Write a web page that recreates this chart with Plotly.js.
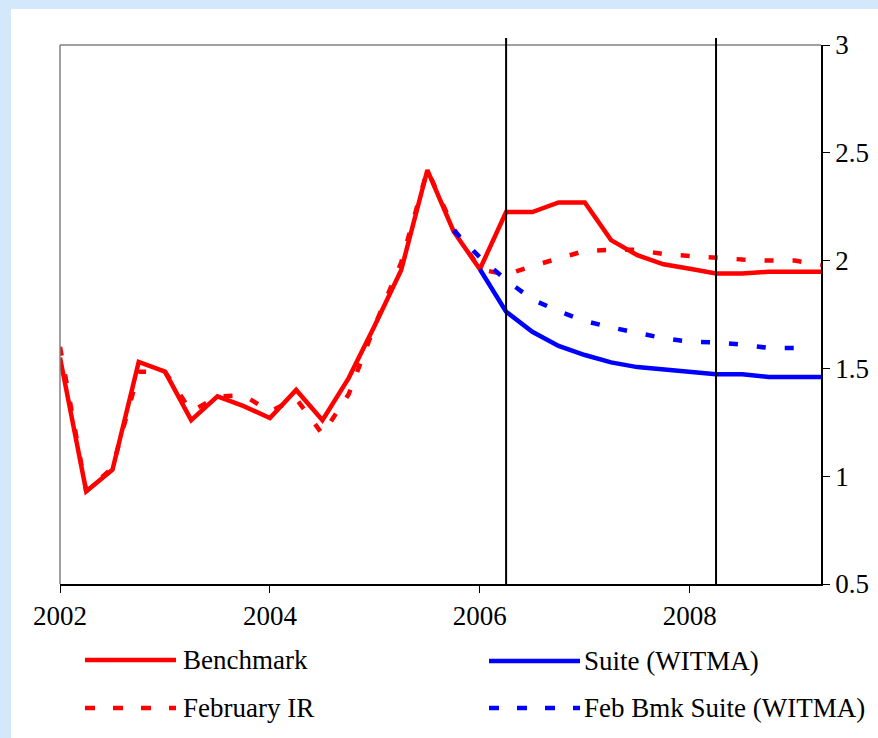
<!DOCTYPE html>
<html>
<head>
<meta charset="utf-8">
<script src="https://cdn.plot.ly/plotly-3.0.1.min.js"></script>
<style>
  html, body { margin: 0; padding: 0; width: 878px; height: 738px; overflow: hidden; background: #d3e8fa; font-family: 'Liberation Serif', serif; }
  #paper { position: absolute; left: 11px; top: 9px; width: 867px; height: 729px; background: #ffffff; }
  #chart { position: absolute; left: 0; top: 0; width: 878px; height: 738px; }
</style>
</head>
<body>
<div id="paper"></div>
<div id="chart"></div>
<script>
// ---- Data (quarterly, decimal years) ----
const quarters = [2002, 2002.25, 2002.5, 2002.75, 2003, 2003.25, 2003.5, 2003.75,
                  2004, 2004.25, 2004.5, 2004.75, 2005, 2005.25, 2005.5, 2005.75,
                  2006, 2006.25, 2006.5, 2006.75, 2007, 2007.25, 2007.5, 2007.75,
                  2008, 2008.25, 2008.5, 2008.75, 2009, 2009.25];

const benchmark = [1.55, 0.93, 1.03, 1.53, 1.485, 1.26, 1.37, 1.325,
                   1.27, 1.40, 1.26, 1.455, 1.70, 1.955, 2.42, 2.135,
                   1.96, 2.225, 2.225, 2.27, 2.27, 2.095, 2.025, 1.983,
                   1.962, 1.94, 1.94, 1.948, 1.948, 1.948];

const februaryIR = [1.60, 0.93, 1.04, 1.485, 1.485, 1.30, 1.37, 1.375,
                    1.30, 1.36, 1.195, 1.38, 1.70, 1.99, 2.42, 2.15,
                    1.96, 1.935, 1.975, 2.01, 2.045, 2.05, 2.05, 2.03,
                    2.02, 2.015, 2.005, 2.0, 2.0, 1.98];

const suiteQuarters = [2006, 2006.25, 2006.5, 2006.75, 2007, 2007.25, 2007.5,
                       2007.75, 2008, 2008.25, 2008.5, 2008.75, 2009, 2009.25];
const suite = [1.96, 1.763, 1.67, 1.604, 1.562, 1.528, 1.506,
               1.496, 1.485, 1.473, 1.473, 1.46, 1.46, 1.46];

const febSuiteQuarters = [2005.75, 2006, 2006.25, 2006.5, 2006.75, 2007, 2007.25,
                          2007.5, 2007.75, 2008, 2008.25, 2008.5, 2008.75, 2009];
const febSuite = [2.14, 2.015, 1.91, 1.82, 1.765, 1.72, 1.69,
                  1.665, 1.64, 1.624, 1.62, 1.61, 1.595, 1.595];

const markerYears = [2006.25, 2008.25];
const xTickVals = [2002, 2004, 2006, 2008];
const xTickText = ["2002", "2004", "2006", "2008"];
const seriesNames = ["Benchmark", "Suite (WITMA)", "February IR", "Feb Bmk Suite (WITMA)"];

// ---- Style ----
var RED = "#ff0000", BLUE = "#0000ff";
var LW = 4.5;
var DASH = "9px,19px";
var SERIF = "Times New Roman";
var FS = 27;

var ML = 60, MR = 57, MT = 45, MB = 154, WW = 878, HH = 738;
var pw = WW - ML - MR, ph = HH - MT - MB;
function px2x(px) { return (px - ML) / pw; }
function py2y(py) { return (HH - MB - py) / ph; }

var traces = [
  { x: quarters, y: februaryIR, name: seriesNames[2], mode: "lines",
    line: { color: RED, width: LW, dash: DASH } },
  { x: quarters, y: benchmark, name: seriesNames[0], mode: "lines",
    line: { color: RED, width: LW } },
  { x: suiteQuarters, y: suite, name: seriesNames[1], mode: "lines",
    line: { color: BLUE, width: LW } },
  { x: febSuiteQuarters, y: febSuite, name: seriesNames[3], mode: "lines",
    line: { color: BLUE, width: LW, dash: DASH } }
];

var shapes = [
  { type: "line", xref: "paper", yref: "paper", x0: 0, x1: 1, y0: 1, y1: 1,
    line: { color: "#808080", width: 1.5 } },
  { type: "line", xref: "paper", yref: "paper", x0: 0, x1: 0, y0: 0, y1: 1,
    line: { color: "#808080", width: 1.5 } }
];
markerYears.forEach(function (yr) { shapes.push({
  type: "line", xref: "x", yref: "paper", x0: yr, x1: yr, y0: 0, y1: py2y(38),
  line: { color: "#000000", width: 2 }
}); });

var legendItems = [
  { name: seriesNames[0], color: RED, dash: "solid", x0: 85, x1: 176, tx: 181, y: 660 },
  { name: seriesNames[1], color: BLUE, dash: "solid", x0: 489, x1: 580, tx: 582, y: 661 },
  { name: seriesNames[2], color: RED, dash: "10px,18px", x0: 85, x1: 176, tx: 181, y: 708 },
  { name: seriesNames[3], color: BLUE, dash: "10px,18px", x0: 489, x1: 580, tx: 582, y: 708 }
];
var annotations = [];
legendItems.forEach(function (it) {
  shapes.push({ type: "line", xref: "paper", yref: "paper",
    x0: px2x(it.x0), x1: px2x(it.x1), y0: py2y(it.y), y1: py2y(it.y),
    line: { color: it.color, width: LW, dash: it.dash } });
  annotations.push({ xref: "paper", yref: "paper", x: px2x(it.tx), y: py2y(it.y),
    xanchor: "left", yanchor: "middle", showarrow: false, text: it.name,
    font: { family: SERIF, size: FS, color: "#000000" } });
});

var layout = {
  width: WW, height: HH,
  margin: { l: ML, r: MR, t: MT, b: MB, pad: 0 },
  paper_bgcolor: "rgba(0,0,0,0)",
  plot_bgcolor: "#ffffff",
  showlegend: false,
  xaxis: {
    range: [2002, 2009.25], tickvals: xTickVals, ticktext: xTickText,
    showgrid: false, zeroline: false, showline: true, linecolor: "#000000", linewidth: 1.5,
    ticks: "outside", ticklen: 7, tickcolor: "#000000", tickwidth: 1,
    tickfont: { family: SERIF, size: FS, color: "#000000" }
  },
  yaxis: {
    side: "right", range: [0.5, 3], tick0: 0.5, dtick: 0.5,
    showgrid: false, zeroline: false, showline: true, linecolor: "#000000", linewidth: 1.5,
    ticks: "outside", ticklen: 7, tickcolor: "#000000", tickwidth: 1,
    tickfont: { family: SERIF, size: FS, color: "#000000" }
  },
  shapes: shapes,
  annotations: annotations
};

Plotly.newPlot("chart", traces, layout, { displayModeBar: false });
</script>
</body>
</html>
